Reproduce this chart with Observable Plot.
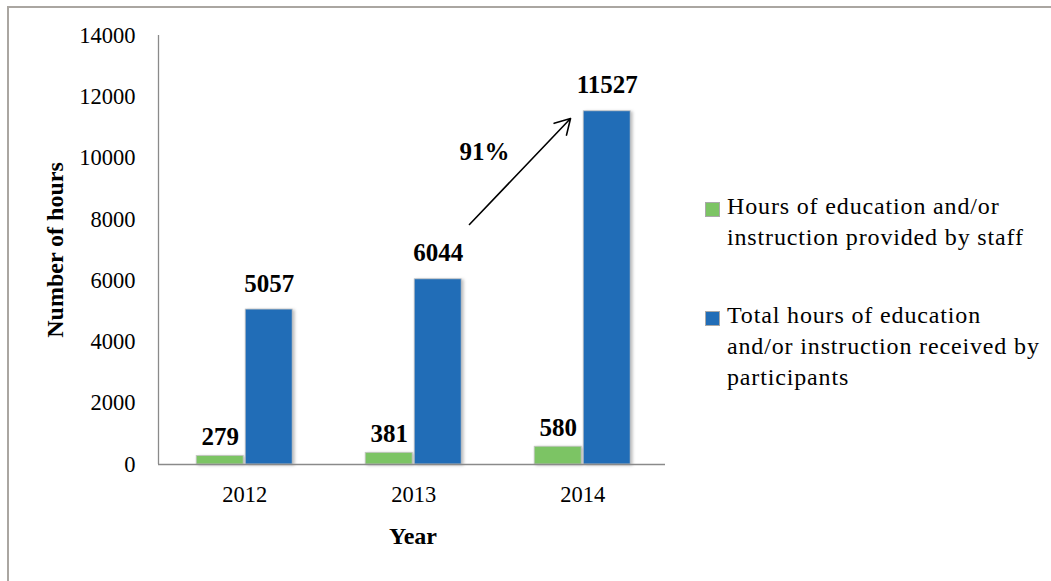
<!DOCTYPE html>
<html>
<head>
<meta charset="utf-8">
<script src="https://cdn.jsdelivr.net/npm/d3@7"></script>
<script src="https://cdn.jsdelivr.net/npm/@observablehq/plot@0.6"></script>
<style>
  html, body { margin: 0; padding: 0; background: #fff; }
  #wrap { position: relative; width: 1051px; height: 581px; overflow: hidden; font-family: "Liberation Serif", serif; color: #000; }
  #border { position: absolute; left: 7px; top: 6px; right: -10px; bottom: -10px; border-top: 2px solid #aaa6a1; border-left: 2px solid #aaa6a1; }
  #chart { position: absolute; left: 0; top: 0; }
  .ytitle { position: absolute; left: 55px; top: 250px; transform: translate(-50%, -50%) rotate(-90deg); font-weight: bold; font-size: 24px; white-space: nowrap; }
  .xtitle { position: absolute; left: 413px; top: 523px; transform: translateX(-50%); font-weight: bold; font-size: 24px; white-space: nowrap; }
  .legend-item { position: absolute; left: 705px; font-size: 24px; line-height: 31px; letter-spacing: 0.85px; }
  .legend-item .sw { position: absolute; left: 0; width: 13px; height: 13px; border: 1px solid #a9a9a9; }
  .legend-item .tx { position: absolute; left: 22px; white-space: nowrap; }
  svg g[aria-label="rect"] rect { filter: drop-shadow(2px 1px 1.5px rgba(0,0,0,0.25)); }
</style>
</head>
<body>
<div id="wrap">
  <div id="border"></div>
  <div id="chart"></div>
</div>
<script>
// ---- data ----
const years = [2012, 2013, 2014];
const staffHours = [279, 381, 580];
const participantHours = [5057, 6044, 11527];
const seriesNames = [
  "Hours of education and/or<br>instruction provided by staff",
  "Total hours of education<br>and/or instruction received by<br>participants"
];
const seriesColors = ["#7cc464", "#216db7"];
const yTicks = [0, 2000, 4000, 6000, 8000, 10000, 12000, 14000];
const xDomain = [2011.49, 2014.49];
const growthText = ["91%"];
const growthTextPos = [[2013.419, 10198]];
const arrowFrom = [2013.330, 7832];
const arrowTo = [2013.928, 11291];
const axisTitleX = "Year";
const axisTitleY = "Number of hours";

// ---- build rows ----
const half = 0.278, gap = 0.006;
const rows = [];
years.forEach((yr, i) => {
  rows.push({year: yr, s: 0, value: staffHours[i], x1: yr - gap - half, x2: yr - gap});
  rows.push({year: yr, s: 1, value: participantHours[i], x1: yr + gap, x2: yr + gap + half});
});
const staffRows = rows.filter(d => d.s === 0);
const partRows = rows.filter(d => d.s === 1);

const plot = Plot.plot({
  width: 700,
  height: 581,
  marginLeft: 158,
  marginRight: 35,
  marginTop: 35,
  marginBottom: 117,
  style: {fontFamily: "Liberation Serif", fontSize: "22px", color: "#000", background: "transparent", overflow: "visible"},
  x: {type: "linear", domain: xDomain},
  y: {domain: [0, 14000]},
  marks: [
    Plot.rect(rows, {x1: "x1", x2: "x2", y1: () => 0, y2: "value", fill: d => seriesColors[d.s], stroke: "#c4c4c4", strokeWidth: 0.8}),
    Plot.ruleY([0], {x1: xDomain[0], x2: xDomain[1], stroke: "#8a8a8a", strokeWidth: 1.3}),
    Plot.ruleX([xDomain[0]], {y1: 0, y2: 14000, stroke: "#8a8a8a", strokeWidth: 1.3}),
    Plot.axisY(yTicks, {tickSize: 0, tickPadding: 23, tickFormat: d => String(d), fontSize: 22.5, fill: "#000", label: null}),
    Plot.axisX(years, {tickSize: 0, tickPadding: 22, tickFormat: d => String(d), fontSize: 22.5, fill: "#000", label: null}),
    Plot.text(staffRows, {x: d => (d.x1 + d.x2) / 2, y: "value", text: d => String(d.value), lineAnchor: "bottom", dy: -11, fontSize: 25, fontWeight: "bold", fill: "#000"}),
    Plot.text(partRows, {x: d => (d.x1 + d.x2) / 2, y: "value", text: d => String(d.value), lineAnchor: "bottom", dy: -18, fontSize: 25, fontWeight: "bold", fill: "#000"}),
    Plot.arrow([{a: arrowFrom, b: arrowTo}], {x1: d => d.a[0], y1: d => d.a[1], x2: d => d.b[0], y2: d => d.b[1], bend: 0, headLength: 16, stroke: "#000", strokeWidth: 1.6, insetEnd: 0}),
    Plot.text(growthText, {x: (d, i) => growthTextPos[i][0], y: (d, i) => growthTextPos[i][1], text: d => d, fontSize: 25, fontWeight: "bold", fill: "#000"})
  ]
});
document.getElementById("chart").appendChild(plot);

// titles and legend (HTML text)
const wrap = document.getElementById("wrap");
const yt = document.createElement("div"); yt.className = "ytitle"; yt.textContent = axisTitleY; wrap.appendChild(yt);
const xt = document.createElement("div"); xt.className = "xtitle"; xt.textContent = axisTitleX; wrap.appendChild(xt);
const legendTops = [191, 300];
seriesNames.forEach((name, i) => {
  const item = document.createElement("div");
  item.className = "legend-item";
  item.style.top = legendTops[i] + "px";
  const sw = document.createElement("div"); sw.className = "sw"; sw.style.background = seriesColors[i]; sw.style.top = "11px";
  const tx = document.createElement("div"); tx.className = "tx"; tx.innerHTML = name;
  item.appendChild(sw); item.appendChild(tx);
  wrap.appendChild(item);
});
</script>
</body>
</html>
